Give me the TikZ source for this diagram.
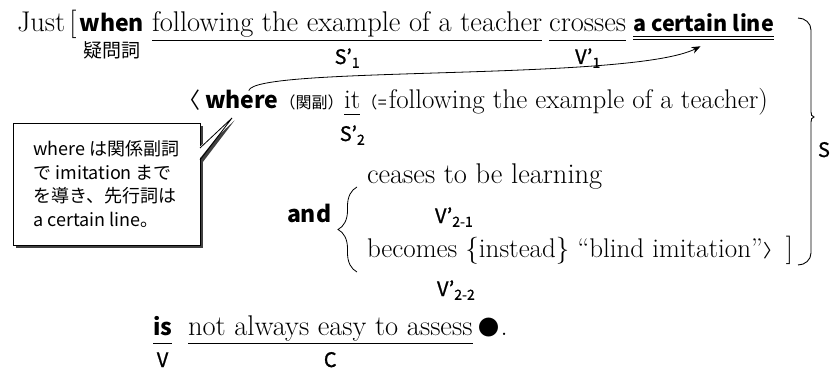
\documentclass[tikz,border=0pt]{standalone}
\usepackage{fontspec}
\newfontfamily\jp{Noto Sans CJK JP}
\newfontfamily\jpm[FakeBold=0.9]{Noto Sans CJK JP}
\usetikzlibrary{arrows.meta, positioning, calc, decorations.pathreplacing, shadows}
\newcommand\lsub[1]{\raisebox{-0.35ex}{\fontsize{14}{14}\selectfont #1}}

\begin{document}
\begin{tikzpicture}[x=1pt, y=-1pt,
  inner sep=0pt, outer sep=0pt,
  rm/.style={font=\fontsize{28.5}{32}\selectfont},
  sb/.style={font=\jp\fontsize{23}{26}\selectfont\bfseries},
  lab/.style={font=\jpm\fontsize{20}{22}\selectfont},
  gim/.style={font=\jp\fontsize{19}{21}\selectfont},
  kan/.style={font=\jp\fontsize{16}{18}\selectfont},
  ul/.style={line width=0.9pt},
  arr/.style={-{Stealth[length=9pt, width=7pt]}, line width=0.8pt},
  memo/.style={draw, line width=0.8pt, fill=white, align=left,
    font=\jp\fontsize{18}{23.5}\selectfont,
    minimum width=187pt, minimum height=122pt,
    general shadow={fill=black!75, shadow xshift=2.5pt, shadow yshift=-2.5pt}}]
\useasboundingbox (0,0) rectangle (836,369);

% first line
\node[rm, anchor=base west] (just) at (17,32) {Just};
\node[rm, base right=4pt of just] (lbr) {[};
\node[sb, base right=3pt of lbr] (when) {when};
\node[rm, base right=8pt of when] (follow) {following the example of a teacher};
\node[rm, base right=7pt of follow] (cross) {crosses};
\node[sb, font=\jp\fontsize{21.5}{26}\selectfont\bfseries, base right=7pt of cross] (cert) {a certain line};
\node[gim, below=9pt of when] (gimon) {疑問詞};
\node[lab, anchor=base] (s1) at (follow.base |- 0,64) {S’\lsub{1}};
\node[lab, anchor=base] (v1) at (cross.base |- 0,64) {V’\lsub{1}};
\draw[ul] ([yshift=-8pt]follow.base west) -- ([yshift=-8pt]follow.base east);
\draw[ul] ([yshift=-8pt]cross.base west) -- ([yshift=-8pt]cross.base east);
\draw[ul] ([yshift=-4pt]cert.base west) -- ([yshift=-4pt]cert.base east);
\draw[ul] ([yshift=-7pt]cert.base west) -- ([yshift=-7pt]cert.base east);

% relative clause
\node[sb, anchor=base west] (where) at (205,109) {where};
\node[font=\jp\fontsize{22}{24}\selectfont, base left=5pt of where] (lang) {〈};
\node[kan, base right=1pt of where] (kanfuku) {（関副）};
\node[rm, font=\fontsize{27}{30}\selectfont, anchor=base east] (ittext) at (768,109)
  {following the example of a teacher)};
\node[kan, base left=2pt of ittext] (eq) {（\kern0.5pt=};
\node[rm, font=\fontsize{27}{30}\selectfont, base left=1pt of eq] (it) {it};
\node[lab, anchor=base] (s2) at (it.base |- 0,141) {S’\lsub{2}};
\draw[ul] ([yshift=-5pt]it.base west) -- ([yshift=-5pt]it.base east);
\coordinate (atip) at ($(cert.south)+(-3,14)$);
\draw[arr] ([xshift=7pt]where.north) .. controls +(5,-25) and +(-70,35) .. (atip);

% note
\node[memo] (note) at (106.5,184) {where は関係副詞\\で imitation まで\\を導き、先行詞は\\a certain line。};
\coordinate (ptip) at ($(where.base west)+(27,9)$);
\coordinate (pa) at ([yshift=-25pt]note.north east);
\coordinate (pb) at ([yshift=-37pt]note.north east);
\fill[black!75] ($(pa)+(2.5,2.5)$) -- ($(ptip)+(2.5,2.5)$) -- ($(pb)+(2.5,2.5)$) -- cycle;
\fill[white] ($(pa)+(-1.5,0)$) -- (ptip) -- ($(pb)+(-1.5,0)$) -- cycle;
\draw[line width=0.8pt] (pa) -- (ptip) -- (pb);

% and
\node[sb, anchor=base west] (and) at (287,222) {and};
\node[rm, anchor=base west] (cease) at (367,183) {ceases to be learning};
\node[rm, font=\fontsize{27}{30}\selectfont, anchor=base west] (become) at (367,257)
  {becomes \{instead\} “blind imitation”};
\node[font=\jp\fontsize{18}{20}\selectfont, base right=1pt of become] (rang) {〉};
\node[rm, base right=4pt of rang] (rbr) {]};
\node[lab, anchor=base west] (v21) at (435,223) {V’\lsub{2-1}};
\node[lab, anchor=base west] (v22) at (437,296) {V’\lsub{2-2}};
\draw[line width=0.8pt, decorate, decoration={brace, amplitude=19pt}] (357,272) -- (357,187);

% S brace
\draw[line width=0.9pt] (798,18) to[out=0,in=90] (811,30) -- (811,112)
  to[out=-90,in=180] (814,117) to[out=180,in=90] (811,122) -- (811,253)
  to[out=-90,in=0] (798,265);
\node[lab, anchor=base west] (S) at (818,157) {S};

% main verb
\node[sb, anchor=base west] (is) at (153,335) {is};
\node[rm, anchor=base west] (comp) at (188,335) {not always easy to assess};
\node[font=\jp\fontsize{21}{22}\selectfont, base right=6pt of comp] (blk) {●};
\node[rm, base right=1pt of blk] (stop) {.};
\draw[ul] ([yshift=-8pt]is.base west) -- ([yshift=-8pt]is.base east);
\draw[ul] ([yshift=-8pt]comp.base west) -- ([yshift=-8pt]comp.base east);
\node[lab, anchor=base] (v) at (is.base |- 0,367) {V};
\node[lab, anchor=base] (c) at (comp.base |- 0,367) {C};
\end{tikzpicture}
\end{document}
